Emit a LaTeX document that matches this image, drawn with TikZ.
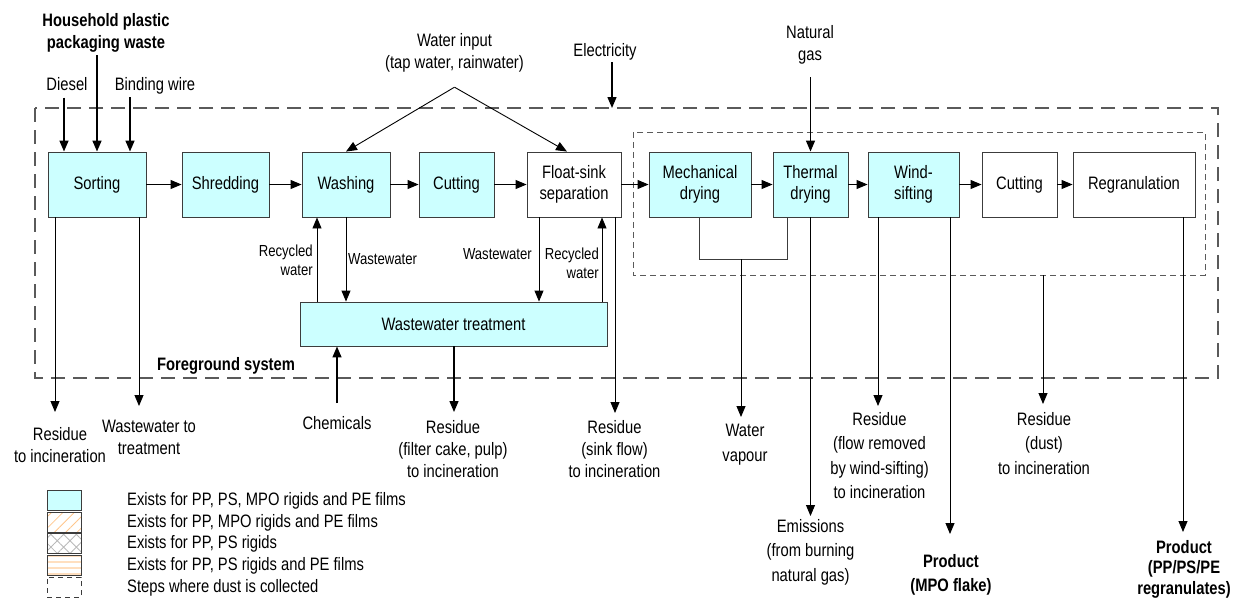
\documentclass[tikz,border=0pt]{standalone}
\usepackage{fontspec}
\setmainfont{Liberation Sans}[FakeStretch=0.82]
\usetikzlibrary{arrows.meta, patterns.meta}
\definecolor{boxCol}{RGB}{204,255,255}
\definecolor{lineCol}{RGB}{60,60,60}
\definecolor{frameCol}{RGB}{90,90,90}
\tikzset{myBox/.style={draw=lineCol, line width=0.9pt, minimum height=65pt, inner sep=2pt, align=center, font=\fontsize{18}{21}\selectfont}}
\tikzset{myCyanBox/.style={myBox, fill=boxCol}}
\tikzset{myFlow/.style={line width=0.9pt, color=black}}
\tikzset{myThick/.style={line width=1.4pt, color=black}}
\tikzset{myLabel/.style={inner sep=0pt, anchor=north, align=center, font=\fontsize{18}{22}\selectfont}}
\tikzset{myWide/.style={myLabel, font=\fontsize{18}{24.5}\selectfont}}
\tikzset{myBold/.style={myLabel, font=\fontsize{18}{22}\selectfont\bfseries}}
\tikzset{mySmall/.style={inner sep=0pt, font=\fontsize{16}{19}\selectfont}}
\tikzset{myFrame/.style={draw=frameCol, line width=1.2pt, dash pattern=on 14pt off 8pt}}
\tikzset{myDust/.style={draw=frameCol, line width=1pt, dash pattern=on 6pt off 4pt}}
\tikzset{myLegBox/.style={draw=lineCol, line width=0.9pt, minimum width=34pt, minimum height=20pt, inner sep=0pt}}
\tikzset{legCyan/.style={fill=boxCol}}
\tikzset{legHatch/.style={pattern={Lines[angle=45, distance=8pt, line width=0.8pt]}, pattern color=orange!45}}
\tikzset{legCross/.style={pattern={Hatch[angle=45, distance=9pt, line width=0.8pt]}, pattern color=gray!55}}
\tikzset{legStripe/.style={pattern={Lines[angle=0, distance=6pt, line width=2.5pt]}, pattern color=orange!25}}
\tikzset{legDash/.style={dash pattern=on 5pt off 4pt}}

\begin{document}
\begin{tikzpicture}[x=1pt, y=-1pt, >={Triangle[length=11pt,width=9pt]}]
	\useasboundingbox (0,0) rectangle (1233,598);

	% system borders
	\draw[myFrame] (35,108) rectangle (1218,378);
	\draw[myDust] (633,132) rectangle (1205,275);
	\node[myBold, anchor=north west] (fgLabel) at (157,357) {Foreground system};

	% process steps
	\node[myCyanBox, minimum width=98pt] (sorting) at (97,184.5) {Sorting};
	\node[myCyanBox, minimum width=87pt] (shredding) at (225.5,184.5) {Shredding};
	\node[myCyanBox, minimum width=88pt] (washing) at (346,184.5) {Washing};
	\node[myCyanBox, minimum width=75pt] (cutA) at (456.5,184.5) {Cutting};
	\node[myBox, minimum width=94pt] (floatSink) at (574,184.5) {Float-sink\\separation};
	\node[myCyanBox, minimum width=102pt] (mechDry) at (700,184.5) {Mechanical\\drying};
	\node[myCyanBox, minimum width=75pt] (thermDry) at (810.5,184.5) {Thermal\\drying};
	\node[myCyanBox, minimum width=91pt] (windSift) at (913.5,184.5) {Wind-\\sifting};
	\node[myBox, minimum width=75pt] (cutB) at (1019.5,184.5) {Cutting};
	\node[myBox, minimum width=122pt] (regran) at (1134,184.5) {Regranulation};
	\node[myCyanBox, minimum width=307pt, minimum height=44pt] (wwTreat) at (453.5,324) {Wastewater treatment};

	\foreach \a/\b in {sorting/shredding, shredding/washing, washing/cutA, cutA/floatSink, floatSink/mechDry, mechDry/thermDry, thermDry/windSift, windSift/cutB, cutB/regran}{
		\draw[myFlow, ->] (\a) -- (\b);
	}

	% inputs
	\node[myBold] (household) at (106,13) {Household plastic\\packaging waste};
	\node[myLabel] (diesel) at (67,77) {Diesel};
	\node[myLabel] (binding) at (155,77) {Binding wire};
	\coordinate (sortInA) at ([xshift=-33pt]sorting.north);
	\coordinate (sortInB) at ([xshift=33pt]sorting.north);
	\draw[myThick, ->, shorten <=7pt] (diesel.south -| sortInA) -- (sortInA);
	\draw[myThick, ->, shorten <=3pt] (household.south -| sorting.north) -- (sorting.north);
	\draw[myThick, ->, shorten <=3pt] (binding.south -| sortInB) -- (sortInB);

	\node[myLabel] (water) at (454.5,33) {Water input\\(tap water, rainwater)};
	\coordinate (apex) at ([yshift=-15pt]water.south);
	\coordinate (floatIn) at ([xshift=-7pt]floatSink.north);
	\draw[myFlow, ->] (apex) -- (washing.north);
	\draw[myFlow, ->] (apex) -- (floatIn);

	\node[myLabel] (elec) at (605,43) {Electricity};
	\coordinate (elecIn) at (612,108);
	\draw[myThick, ->, shorten <=2pt] (elec.south -| elecIn) -- (elecIn);

	\node[myLabel] (gas) at (810,25) {Natural\\gas};
	\draw[myThick, ->, shorten <=13pt] (gas.south -| thermDry.north) -- (thermDry.north);

	% water loop
	\coordinate (washRec) at ([xshift=-29pt]washing.south);
	\coordinate (floatOut) at ([xshift=-35pt]floatSink.south);
	\coordinate (floatRec) at ([xshift=28pt]floatSink.south);
	\draw[myFlow, ->] (wwTreat.north -| washRec) -- (washRec);
	\draw[myFlow, ->] (washing.south) -- (washing.south |- wwTreat.north);
	\draw[myFlow, ->] (floatOut) -- (floatOut |- wwTreat.north);
	\draw[myFlow, ->] (wwTreat.north -| floatRec) -- (floatRec);
	\node[mySmall, anchor=north east, align=right] (recLabA) at (313,245) {Recycled\\water};
	\node[mySmall, anchor=north west] (wwLabA) at (348,253) {Wastewater};
	\node[mySmall, anchor=north east] (wwLabB) at (532,248) {Wastewater};
	\node[mySmall, anchor=north east, align=right] (recLabB) at (599,248) {Recycled\\water};

	\node[myLabel] (chem) at (337,416) {Chemicals};
	\draw[myThick, ->, shorten <=13pt] (chem.north) -- (chem.north |- wwTreat.south);

	% outputs
	\coordinate (sortResTip) at (55,412);
	\coordinate (sortWwTip) at (139,406);
	\coordinate (wwResTip) at (454,412);
	\coordinate (sinkTip) at (615,413);
	\coordinate (mechOut) at (699,259);
	\coordinate (thermOut) at (787,259);
	\coordinate (vapStart) at (741,259);
	\coordinate (vapTip) at (741,417);
	\coordinate (emiTip) at (810.5,516);
	\coordinate (windResTip) at (878,406);
	\coordinate (mpoTip) at (950,534);
	\coordinate (dustStart) at (1043,275);
	\coordinate (dustTip) at (1043,404);
	\coordinate (ppTip) at (1183,532);

	\draw[myFlow, ->] (sorting.south -| sortResTip) -- (sortResTip);
	\draw[myFlow, ->] (sorting.south -| sortWwTip) -- (sortWwTip);
	\draw[myThick, ->] (wwTreat.south -| wwResTip) -- (wwResTip);
	\draw[myFlow, ->] (floatSink.south -| sinkTip) -- (sinkTip);
	\draw[myFlow, draw=lineCol] (mechDry.south -| mechOut) -- (mechOut) -- (thermOut) -- (thermDry.south -| thermOut);
	\draw[myFlow, ->] (vapStart) -- (vapTip);
	\draw[myFlow, ->] (thermDry.south -| emiTip) -- (emiTip);
	\draw[myFlow, ->] (windSift.south -| windResTip) -- (windResTip);
	\draw[myFlow, ->] (windSift.south -| mpoTip) -- (mpoTip);
	\draw[myFlow, ->] (dustStart) -- (dustTip);
	\draw[myFlow, ->] (regran.south -| ppTip) -- (ppTip);

	\node[myLabel] (sortRes) at (60,427) {Residue\\to incineration};
	\node[myLabel] (sortWw) at (149,420) {Wastewater to\\treatment};
	\node[myLabel] (wwRes) at (453,420) {Residue\\(filter cake, pulp)\\to incineration};
	\node[myLabel] (sinkRes) at (614.5,420) {Residue\\(sink flow)\\to incineration};
	\node[myWide] (vapour) at (745,424) {Water\\vapour};
	\node[myWide] (emission) at (810.5,519) {Emissions\\(from burning\\natural gas)};
	\node[myWide] (windRes) at (879.5,412) {Residue\\(flow removed\\by wind-sifting)\\to incineration};
	\node[myBold, font=\fontsize{18}{24}\selectfont\bfseries] (mpoProd) at (951,554) {Product\\(MPO flake)};
	\node[myBold, font=\fontsize{18}{20.5}\selectfont\bfseries] (ppProd) at (1184,540) {Product\\(PP/PS/PE\\regranulates)};
	\node[myWide] (dustRes) at (1044,412) {Residue\\(dust)\\to incineration};

	% legend
	\foreach \y/\sty/\txt [count=\i] in {490/legCyan/{Exists for PP, PS, MPO rigids and PE films}, 512/legHatch/{Exists for PP, MPO rigids and PE films}, 533/legCross/{Exists for PP, PS rigids}, 555/legStripe/{Exists for PP, PS rigids and PE films}, 577/legDash/{Steps where dust is collected}}{
		\node[myLegBox, \sty] (leg\i) at (64,\y+10) {};
		\node[myLabel, anchor=west] (legText\i) at (127,\y+11) {\txt};
	}
\end{tikzpicture}
\end{document}
